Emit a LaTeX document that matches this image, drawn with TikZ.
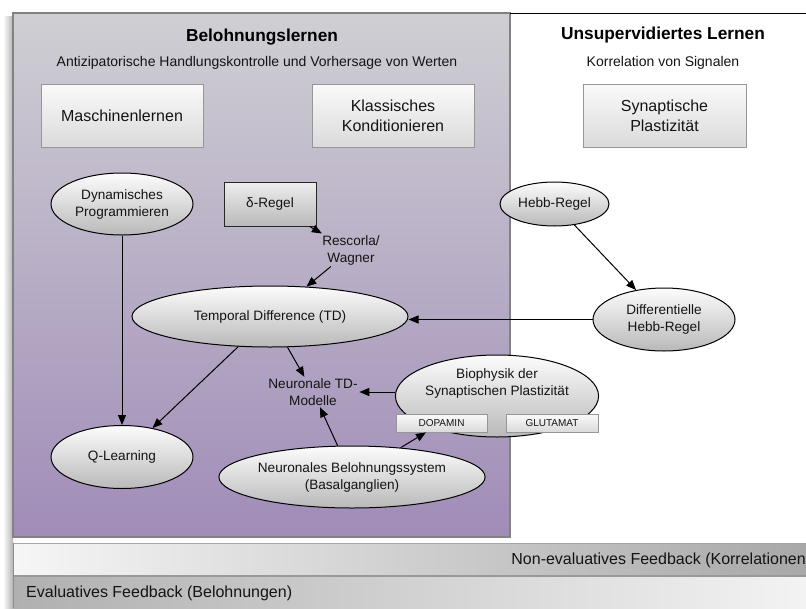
\documentclass[tikz,border=0pt]{standalone}
\usepackage{fontspec}
\setmainfont{Liberation Sans}
\usetikzlibrary{arrows.meta,shapes.geometric}
\definecolor{ptop}{RGB}{207,207,211}
\definecolor{pbot}{RGB}{160,140,184}
\definecolor{pborder}{RGB}{130,130,130}
\definecolor{boxtop}{RGB}{250,250,250}
\definecolor{boxbot}{RGB}{218,218,218}
\definecolor{boxline}{RGB}{150,150,150}
\definecolor{elltop}{RGB}{252,252,252}
\definecolor{ellbot}{RGB}{185,185,185}
\definecolor{barAl}{RGB}{246,246,246}
\definecolor{barAr}{RGB}{168,168,168}
\definecolor{barBl}{RGB}{176,176,176}
\definecolor{barBr}{RGB}{243,243,243}
\definecolor{txt}{RGB}{20,20,20}
\tikzset{
  boxnode/.style={rectangle,draw=boxline,line width=0.8pt,top color=boxtop,bottom color=boxbot,
    align=center,inner sep=0pt,font=\fontsize{16}{20}\selectfont,text=txt},
  ellnode/.style={ellipse,draw=black,line width=1pt,top color=elltop,bottom color=ellbot,
    align=center,inner sep=0pt,font=\fontsize{13.6}{17}\selectfont,text=txt},
  deltabox/.style={rectangle,draw=black!85,line width=1pt,top color=boxtop!90!gray,bottom color=ellbot,
    align=center,inner sep=0pt,font=\fontsize{13.6}{17}\selectfont,text=txt},
  smallbox/.style={rectangle,draw=boxline,line width=0.8pt,top color=boxtop,bottom color=boxbot,
    align=center,inner sep=0pt,minimum width=91pt,minimum height=18pt,font=\fontsize{10}{12}\selectfont,text=txt},
  plaintext/.style={align=center,inner sep=1.5pt,font=\fontsize{13.6}{17}\selectfont,text=txt},
  titletext/.style={inner sep=0pt,font=\fontsize{17.3}{20}\selectfont\bfseries,text=black},
  subtext/.style={inner sep=0pt,font=\fontsize{14}{16}\selectfont,text=txt},
  bartext/.style={inner sep=0pt,font=\fontsize{16}{19}\selectfont,text=txt},
  arr/.style={-{Triangle[length=10pt,width=8pt]},line width=1pt,black},
}
\begin{document}
\begin{tikzpicture}[x=1pt,y=-1pt]
\useasboundingbox (0,0) rectangle (806,608);
\fill[white] (0,0) rectangle (806,608);
% left shadow
\shade[left color=white,right color=black!30] (3,16) rectangle (13,608);
% purple panel
\shade[top color=ptop,bottom color=pbot] (13,13) rectangle (510,537);
\draw[pborder,line width=1.2pt] (13,13) rectangle (510,537);
% right panel top line
\draw[black,line width=1pt] (510,13) -- (806,13);
% bottom bars
\shade[left color=barAl,right color=barAr] (13,543) rectangle (806,575);
\draw[black!35,line width=1pt] (13,543.5) -- (806,543.5);
\fill[black!40] (13,575) rectangle (806,577);
\shade[left color=barBl,right color=barBr] (13,577) rectangle (806,608);
\draw[black!45,line width=1pt] (13.5,543) -- (13.5,608);
\node[bartext,anchor=east] (nonevalfb) at (806,560) {Non-evaluatives Feedback (Korrelationen};
\node[bartext,anchor=west] (evalfb) at (26,593) {Evaluatives Feedback (Belohnungen)};
% titles
\node[titletext] (t1) at (262,37) {Belohnungslernen};
\node[subtext] (s1) at (257,63) {Antizipatorische Handlungskontrolle und Vorhersage von Werten};
\node[titletext] (t2) at (663,35) {Unsupervidiertes Lernen};
\node[subtext] (s2) at (663,63) {Korrelation von Signalen};
% boxes
\node[boxnode,minimum width=162pt,minimum height=63pt] (masch) at (122,115.5) {Maschinenlernen};
\node[boxnode,minimum width=162pt,minimum height=63pt] (klass) at (393,115.5) {Klassisches\\Konditionieren};
\node[boxnode,minimum width=163pt,minimum height=63pt] (synpl) at (664.5,115.5) {Synaptische\\Plastizität};
% nodes
\node[ellnode,minimum width=142pt,minimum height=62pt] (dynprog) at (122,204) {Dynamisches\\Programmieren};
\node[deltabox,minimum width=92pt,minimum height=44pt] (delta) at (270,204) {δ-Regel};
\node[plaintext] (rescorla) at (351,250) {Rescorla/\\Wagner};
\node[ellnode,minimum width=276pt,minimum height=61pt] (td) at (270,316.5) {Temporal Difference (TD)};
\node[ellnode,minimum width=109pt,minimum height=44pt] (hebb) at (554.5,204) {Hebb-Regel};
\node[ellnode,minimum width=142pt,minimum height=63pt] (diffhebb) at (664,319.5) {Differentielle\\Hebb-Regel};
\node[ellnode,minimum width=142pt,minimum height=63pt] (qlearn) at (122,457) {Q-Learning};
\node[plaintext] (ntd) at (313,392) {Neuronale TD-\\Modelle};
\node[ellnode,minimum width=202pt,minimum height=82pt] (bio) at (497,396) {Biophysik der\\Synaptischen Plastizität\\[10pt]};
\node[smallbox] (dopamin) at (441.5,423) {DOPAMIN};
\node[smallbox,minimum width=92pt] (glutamat) at (552,423) {GLUTAMAT};
\node[ellnode,minimum width=256pt,minimum height=62pt] (nbs) at (352,477) {Neuronales Belohnungssystem\\(Basalganglien)};
% connectors
\draw[arr] (dynprog) -- (qlearn);
\draw[arr] (td) -- (qlearn);
\draw[arr] (td) -- (ntd);
\draw[arr] (delta) -- (rescorla);
\draw[arr] (rescorla) -- (td);
\draw[arr] (hebb) -- (diffhebb);
\draw[arr] (diffhebb.west) -- (diffhebb.west -| td.east);
\draw[arr] (bio.west |- ntd) -- (ntd);
\draw[arr] (nbs) -- (ntd);
\draw[arr] (nbs) -- (dopamin);
\end{tikzpicture}
\end{document}
